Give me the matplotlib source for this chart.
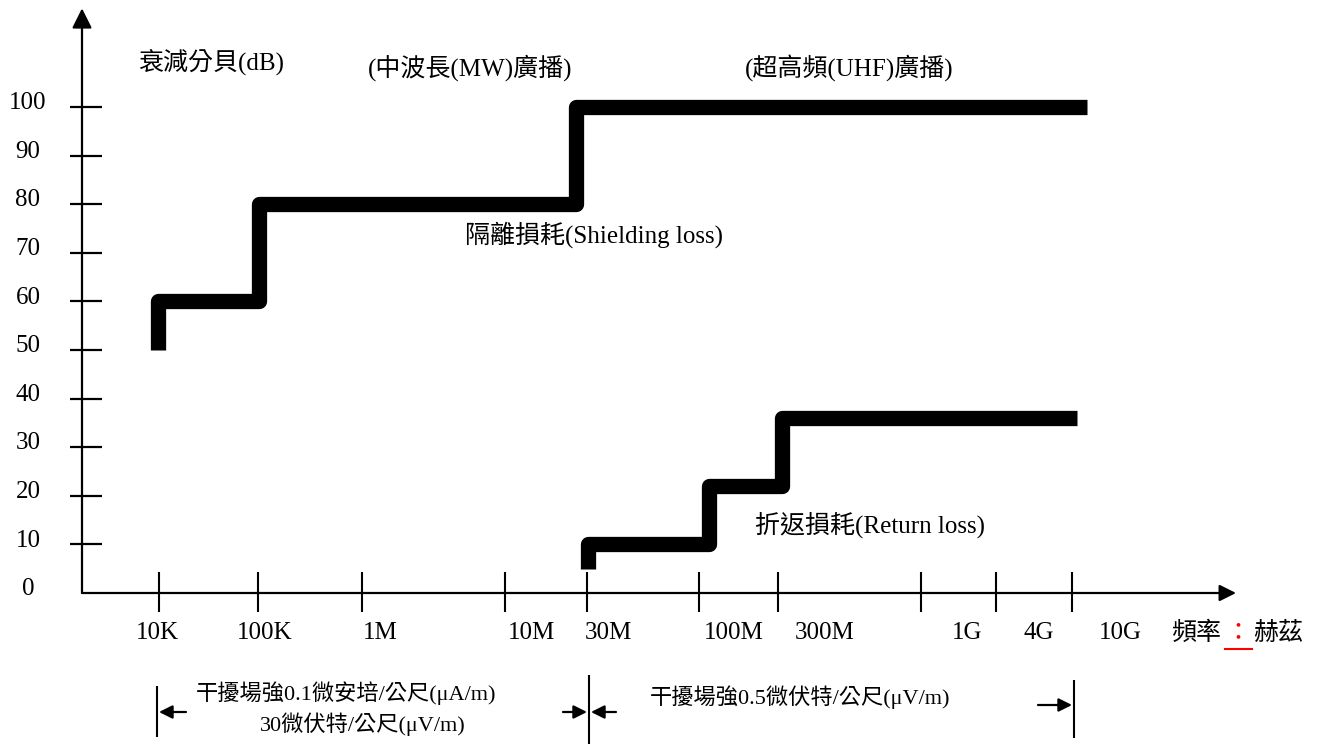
import matplotlib
matplotlib.use('Agg')
import matplotlib.pyplot as plt

plt.rcParams['font.family'] = ['Liberation Serif', 'Noto Sans CJK TC']

# attenuation axis (dB)
y_ticks = [0, 10, 20, 30, 40, 50, 60, 70, 80, 90, 100]

# frequency axis is schematic (not to scale): positions along the drawing
x_tick_pos = [159, 258, 362, 505, 587, 699, 778, 921, 996, 1072]
x_labels = ['10K', '100K', '1M', '10M', '30M', '100M', '300M', '1G', '4G', '10G']
x_label_pos = [157, 265, 380, 532, 608, 734, 825, 967, 1039, 1120]

# shielding loss: step edges and levels (first level = start of the line)
shield_edges = [158, 259, 576, 1087]
shield_levels = [50, 60, 80, 100]

# return loss
return_edges = [588, 709, 782, 1077]
return_levels = [5, 10, 22, 36]

Y0 = 593          # pixel row of 0 dB
PX_PER_DB = 4.86


def steps(edges, levels):
    xs, ys = [edges[0]], [levels[0]]
    for i in range(1, len(levels)):
        xs += [edges[i - 1], edges[i]]
        ys += [levels[i], levels[i]]
    return xs, ys


fig = plt.figure(figsize=(13.2, 7.44), dpi=100)
fig.patch.set_facecolor('white')

# data axes: x schematic units, y in dB
ax = fig.add_axes([0, 0, 1, 1])
ax.set_xlim(0, 1320)
ax.set_ylim((Y0 - 744) / PX_PER_DB, Y0 / PX_PER_DB)
ax.axis('off')

# overlay in pixel coords for text layout
ov = fig.add_axes([0, 0, 1, 1])
ov.set_xlim(0, 1320)
ov.set_ylim(744, 0)
ov.axis('off')
ov.patch.set_alpha(0)

# axes with arrows
ax.annotate('', xy=(1236, 0), xytext=(82, 0),
            arrowprops=dict(arrowstyle='-|>', color='black', lw=1.6,
                            mutation_scale=25, shrinkA=0, shrinkB=0))
ax.annotate('', xy=(82, 120.3), xytext=(82, 0),
            arrowprops=dict(arrowstyle='-|>', color='black', lw=1.6,
                            mutation_scale=30, shrinkA=0, shrinkB=0))

# y ticks + labels
ax.hlines(y_ticks[1:], 70, 102, color='black', lw=1.6)
for v in y_ticks:
    ax.text(28, v + 0.8, str(v), ha='center', va='center', fontsize=18)

# x ticks + labels
ax.vlines(x_tick_pos, -4.0, 4.3, color='black', lw=1.5)
for p, lab in zip(x_label_pos, x_labels):
    ov.text(p, 633, lab, ha='center', va='center', fontsize=18)

# frequency unit label with red colon
ov.text(1171, 633, '頻率', ha='left', va='center', fontsize=18)
ov.text(1238, 633, '：', ha='center', va='center', fontsize=18, color='red')
ov.text(1253, 633, '赫茲', ha='left', va='center', fontsize=18)
ov.plot([1225, 1252], [649, 649], color='red', lw=1.5)

# the two loss curves
for edges, levels in [(shield_edges, shield_levels), (return_edges, return_levels)]:
    xs, ys = steps(edges, levels)
    ax.plot(xs, ys, color='black', lw=11, solid_joinstyle='round',
            solid_capstyle='butt')

# annotations
ov.text(138, 62, '衰減分貝(dB)', ha='left', va='center', fontsize=18)
ov.text(368, 68, '(中波長(MW)廣播)', ha='left', va='center', fontsize=18)
ov.text(745, 68, '(超高頻(UHF)廣播)', ha='left', va='center', fontsize=18)
ov.text(465, 235, '隔離損耗(Shielding loss)', ha='left', va='center', fontsize=18)
ov.text(755, 525, '折返損耗(Return loss)', ha='left', va='center', fontsize=18)

# interference field strength ranges
small = dict(arrowstyle='-|>', color='black', lw=1.6, mutation_scale=20,
             shrinkA=0, shrinkB=0)
ov.vlines([157], 686, 737, color='black', lw=1.5)
ov.annotate('', xy=(159, 712), xytext=(186, 712), arrowprops=small)
ov.vlines([589], 675, 744, color='black', lw=1.5)
ov.annotate('', xy=(587, 712), xytext=(563, 712), arrowprops=small)
ov.annotate('', xy=(591, 712), xytext=(616, 712), arrowprops=small)
ov.vlines([1074], 680, 738, color='black', lw=1.5)
ov.annotate('', xy=(1072, 705), xytext=(1038, 705), arrowprops=small)

ov.text(346, 693, '干擾場強0.1微安培/公尺(μA/m)', ha='center', va='center', fontsize=16)
ov.text(363, 724, '30微伏特/公尺(μV/m)', ha='center', va='center', fontsize=16)
ov.text(800, 697, '干擾場強0.5微伏特/公尺(μV/m)', ha='center', va='center', fontsize=16)

fig.savefig('out.png', dpi=100)
